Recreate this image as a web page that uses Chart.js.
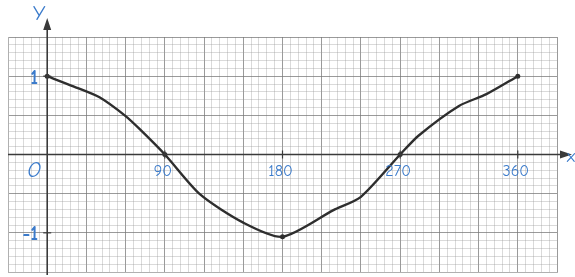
<!DOCTYPE html>
<html>
<head>
<meta charset="utf-8">
<script src="https://cdn.jsdelivr.net/npm/chart.js@4"></script>
<style>
  html, body { margin: 0; padding: 0; background: #fff; }
  #wrap { width: 575px; height: 277px; position: relative; }
</style>
</head>
<body>
<div id="wrap"><canvas id="chart"></canvas></div>
<script>
// hand drawn y = cos x
const angles = [0, 20, 40, 60, 71, 90, 117, 150, 180, 219, 240, 270, 284, 315, 336, 360];
const cosValues = [1, 0.87, 0.73, 0.49, 0.32, 0, -0.51, -0.87, -1.05, -0.71, -0.54, 0, 0.24, 0.62, 0.77, 1];
const markedAngles = [0, 90, 180, 270, 360];

const xTickValues = [90, 180, 270, 360];
const xTickLabels = ["90", "180", "270", "360"];
const yTickValues = [1, -1];
const yTickLabels = ["1", "-1"];

const blue = "#3b7bcb";
const handFont = "'Comic Neue', 'DejaVu Sans', sans-serif";

// axes through the origin, arrows and blue labels
const axesPlugin = {
  id: "axes",
  afterDatasetsDraw(chart) {
    const { ctx, chartArea, scales } = chart;
    const x0 = scales.x.getPixelForValue(0);
    const y0 = scales.y.getPixelForValue(0);
    ctx.save();
    ctx.strokeStyle = "#3a3a3a";
    ctx.fillStyle = "#3a3a3a";
    ctx.lineWidth = 1.6;
    // y axis
    ctx.beginPath();
    ctx.moveTo(x0, chartArea.bottom + 3);
    ctx.lineTo(x0, 22);
    ctx.stroke();
    ctx.beginPath();
    ctx.moveTo(x0, 18);
    ctx.lineTo(x0 - 4, 30);
    ctx.lineTo(x0 + 4, 30);
    ctx.closePath();
    ctx.fill();
    // x axis
    ctx.beginPath();
    ctx.moveTo(chartArea.left, y0);
    ctx.lineTo(568, y0);
    ctx.stroke();
    ctx.beginPath();
    ctx.moveTo(572, y0);
    ctx.lineTo(560, y0 - 4);
    ctx.lineTo(560, y0 + 4);
    ctx.closePath();
    ctx.fill();
    // small tick marks
    ctx.lineWidth = 1.2;
    yTickValues.forEach((v) => {
      const py = scales.y.getPixelForValue(v);
      ctx.beginPath();
      ctx.moveTo(x0 - 4, py);
      ctx.lineTo(x0 + 4, py);
      ctx.stroke();
    });
    xTickValues.forEach((v) => {
      const px = scales.x.getPixelForValue(v);
      ctx.beginPath();
      ctx.moveTo(px, y0 - 4);
      ctx.lineTo(px, y0 + 4);
      ctx.stroke();
    });

    // labels
    ctx.fillStyle = blue;
    ctx.textAlign = "center";
    ctx.textBaseline = "middle";
    ctx.font = "16px " + handFont;
    xTickValues.forEach((v, i) => {
      ctx.fillText(xTickLabels[i], scales.x.getPixelForValue(v) - 2, y0 + 17);
    });
    ctx.font = "bold 20px " + handFont;
    ctx.textAlign = "right";
    yTickValues.forEach((v, i) => {
      ctx.fillText(yTickLabels[i], x0 - 9, scales.y.getPixelForValue(v) + 2);
    });
    ctx.textAlign = "center";
    ctx.font = "italic 21px " + handFont;
    ctx.fillText("O", x0 - 13, y0 + 17);
    ctx.font = "21px " + handFont;
    ctx.fillText("Y", x0 - 8, 14);
    ctx.font = "17px " + handFont;
    ctx.fillText("x", 571, y0 + 3);
    ctx.restore();
  }
};

const isMajorX = (v) => Math.round(v) % 30 === 0;
const isMajorY = (v) => Math.round(v * 10) % 5 === 0;

new Chart(document.getElementById("chart"), {
  type: "scatter",
  data: {
    datasets: [{
      data: angles.map((a, i) => ({ x: a, y: cosValues[i] })),
      showLine: true,
      borderColor: "#2e2e2e",
      borderWidth: 2.4,
      tension: 0.25,
      pointRadius: (c) => markedAngles.includes(angles[c.dataIndex]) ? 2.5 : 0,
      pointBackgroundColor: "#2e2e2e",
      pointBorderWidth: 0
    }]
  },
  options: {
    responsive: true,
    maintainAspectRatio: false,
    animation: false,
    layout: { padding: { left: 8, right: 18, top: 37, bottom: 5 } },
    plugins: { legend: { display: false }, tooltip: { enabled: false } },
    scales: {
      x: {
        type: "linear",
        min: -30,
        max: 390,
        ticks: { display: false, stepSize: 6 },
        border: { display: true, color: "#b0b0b0" },
        grid: {
          drawTicks: false,
          color: (c) => isMajorX(c.tick.value) ? "rgba(120,120,120,0.75)" : "rgba(150,150,150,0.45)",
          lineWidth: (c) => isMajorX(c.tick.value) ? 1 : 0.8
        },
        afterFit: (s) => { s.height = 0; }
      },
      y: {
        type: "linear",
        min: -1.5,
        max: 1.5,
        ticks: { display: false, stepSize: 0.1 },
        border: { display: true, color: "#b0b0b0" },
        grid: {
          drawTicks: false,
          color: (c) => isMajorY(c.tick.value) ? "rgba(120,120,120,0.75)" : "rgba(150,150,150,0.45)",
          lineWidth: (c) => isMajorY(c.tick.value) ? 1 : 0.8
        },
        afterFit: (s) => { s.width = 0; }
      }
    }
  },
  plugins: [axesPlugin]
});
</script>
</body>
</html>
